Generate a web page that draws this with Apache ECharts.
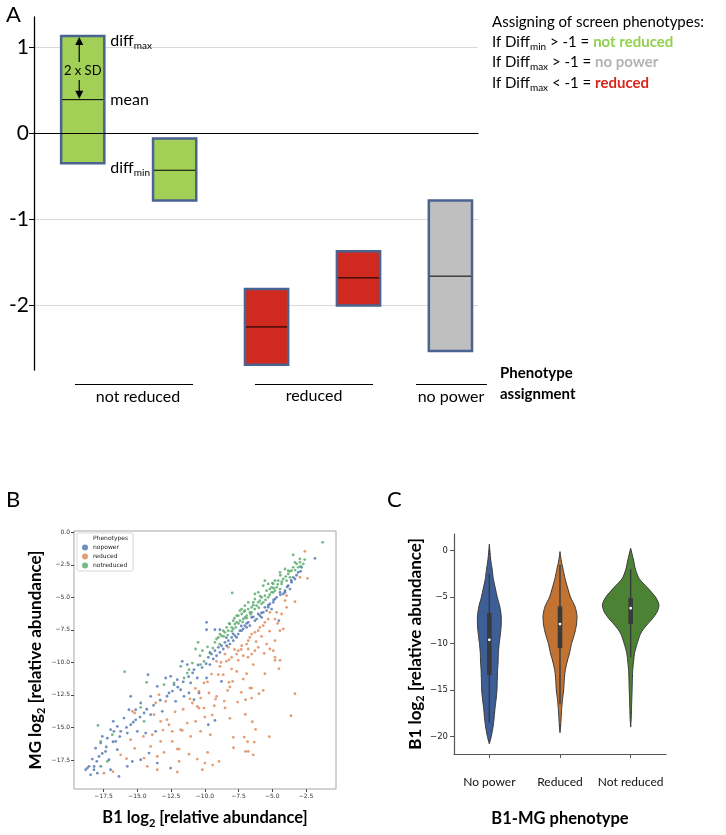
<!DOCTYPE html>
<html>
<head>
<meta charset="utf-8">
<title>Screen phenotypes</title>
<script src="https://cdn.jsdelivr.net/npm/echarts@6/dist/echarts.min.js"></script>
</head>
<body style="margin:0; background:#fff">
<div id="chart" style="width:726px; height:835px;"></div>
<script>
// ---- panel A: diff ranges per screen gene ----
var boxClass = ['not reduced', 'not reduced', 'reduced', 'reduced', 'no power'];
var boxMin  = [-0.35, -0.78, -2.69, -2.00, -2.53];
var boxMax  = [ 1.13, -0.06, -1.81, -1.37, -0.78];
var boxMean = [ 0.39, -0.43, -2.25, -1.68, -1.66];
var ticksA = [-2, -1, 0, 1];

// ---- panel B: B1 vs MG log2 abundance ----
var ticksBx = [-17.5, -15, -12.5, -10, -7.5, -5, -2.5];
var ticksBy = [0, -2.5, -5, -7.5, -10, -12.5, -15, -17.5];
var nopower = [
  [-1.84,-2.00],[-2.83,-2.69],[-3.32,-3.59],[-3.57,-3.84],[-4.06,-4.49],[-4.19,-4.74],[-4.68,-5.00],
  [-4.80,-5.13],[-5.18,-5.51],[-5.05,-5.90],[-5.42,-6.02],[-5.67,-6.15],[-5.92,-6.41],[-6.04,-6.28],
  [-6.29,-6.79],[-6.53,-6.54],[-6.78,-6.92],[-7.03,-7.18],[-7.15,-7.43],[-7.40,-7.56],[-7.52,-7.82],
  [-7.77,-7.95],[-8.01,-8.08],[-8.26,-8.33],[-8.51,-8.46],[-8.76,-8.72],[-9.00,-8.84],[-9.25,-9.10],
  [-9.50,-9.36],[-9.74,-9.61],[-9.87,-6.92],[-9.87,-7.49],[-9.25,-7.49],[-8.88,-7.49],[-4.51,-6.79],
  [-4.06,-4.61],[-3.45,-3.46],[-3.82,-4.10],[-4.43,-4.61],[-4.93,-5.38],[-5.30,-5.77],[-5.55,-5.77],
  [-5.79,-6.54],[-6.16,-6.67],[-6.66,-7.18],[-6.90,-7.31],[-7.27,-7.56],[-7.64,-8.08],[-7.89,-8.33],
  [-8.14,-8.59],[-8.38,-8.72],[-8.63,-8.97],[-8.88,-9.23],[-9.13,-9.49],[-9.37,-9.74],[-9.62,-9.23],
  [-3.08,-3.08],[-3.69,-4.36],
  [-11.67,-9.92],[-14.21,-10.94],[-12.53,-11.07],[-12.28,-11.71],[-12.16,-12.99],[-11.54,-12.61],
  [-10.80,-12.87],[-10.43,-12.35],[-12.65,-12.35],[-13.15,-13.76],[-14.01,-14.02],[-14.50,-13.89],
  [-15.12,-14.41],[-15.62,-13.64],[-15.49,-14.79],[-14.38,-15.43],[-13.64,-15.30],[-15.00,-15.30],
  [-15.74,-15.43],[-16.23,-15.30],[-16.73,-15.30],[-17.22,-15.82],[-16.60,-16.07],[-17.71,-16.20],
  [-17.35,-16.84],[-16.48,-16.71],[-17.10,-17.48],[-17.84,-17.23],[-18.33,-17.43],[-18.70,-18.12],
  [-18.21,-18.25],[-18.46,-18.64],[-17.71,-17.99],[-16.98,-18.25],[-16.36,-18.76],[-15.74,-17.99],
  [-15.37,-17.61],[-14.75,-17.48],[-14.13,-16.97],[-13.52,-17.74],[-12.53,-18.12],[-16.78,-14.53],
  [-15.49,-12.61],[-9.74,-14.79],[-9.25,-14.46],[-8.76,-11.46],[-9.87,-11.20],[-9.62,-10.17],
  [-11.30,-10.17],[-10.80,-10.56],[-10.56,-11.20],[-11.05,-11.58],[-12.04,-11.33],[-12.90,-11.20],
  [-13.52,-11.84],[-11.79,-12.10],[-11.17,-12.35],[-14.01,-12.61],[-14.75,-13.12],[-15.12,-13.64],
  [-15.99,-14.28],[-16.48,-14.92],[-16.98,-15.17],[-17.59,-15.69],[-18.09,-16.59],[-18.58,-17.99],
  [-18.83,-18.25],[-17.96,-18.51],
  [-9.90,-10.10],[-10.20,-10.40],[-10.50,-10.20],[-10.90,-10.80],[-11.20,-11.10],[-11.60,-11.50],
  [-12.00,-11.90],[-12.40,-12.20],[-12.80,-12.60],[-13.30,-12.90],[-13.80,-13.30],[-14.30,-13.60],
  [-14.80,-14.20],[-15.30,-14.60],[-15.80,-15.00],[-16.30,-15.70],[-16.80,-16.10],[-17.30,-16.50],
  [-17.60,-17.00],[-18.00,-17.60],[-18.20,-18.00],[-8.40,-8.10],[-7.90,-7.80],[-7.30,-7.20],
  [-6.90,-7.00],[-6.40,-6.50],[-5.80,-6.20],[-5.30,-5.60],[-4.90,-5.20],[-4.40,-4.80],[-3.90,-4.20],
  [-3.60,-3.70],[-3.20,-3.30],[-2.90,-3.00]
];
var reduced = [
  [-2.58,-1.46],[-2.39,-3.54],[-2.95,-3.46],[-3.94,-4.87],[-4.06,-5.25],[-3.32,-5.33],[-3.94,-5.77],
  [-4.31,-6.28],[-4.80,-6.67],[-4.68,-6.15],[-5.18,-6.15],[-5.30,-6.67],[-5.55,-6.92],[-5.67,-7.18],
  [-5.92,-7.31],[-6.04,-7.56],[-6.29,-7.69],[-6.53,-7.82],[-6.66,-8.08],[-6.78,-8.33],[-6.90,-8.59],
  [-7.27,-8.72],[-7.52,-9.10],[-7.64,-9.36],[-8.01,-9.61],[-8.51,-9.36],[-8.26,-8.84],[-4.19,-7.43],
  [-4.43,-7.56],[-4.80,-8.33],[-5.42,-8.59],[-5.18,-8.97],[-4.93,-9.10],[-6.04,-8.84],[-6.29,-9.10],
  [-6.53,-9.36],[-6.78,-8.97],[-7.15,-9.49],[-4.80,-9.61],
  [-9.13,-9.92],[-8.39,-9.92],[-7.52,-9.84],[-4.80,-9.84],[-4.43,-9.84],[-6.41,-10.17],[-8.88,-10.30],
  [-8.01,-10.51],[-7.64,-10.69],[-6.90,-10.87],[-5.55,-10.87],[-4.51,-10.48],[-9.00,-10.94],[-8.63,-10.94],
  [-8.21,-11.53],[-7.94,-11.46],[-7.15,-11.28],[-6.66,-11.97],[-6.53,-11.97],[-8.14,-11.89],[-8.31,-12.15],
  [-5.99,-12.41],[-5.67,-12.15],[-3.32,-12.41],[-9.69,-12.35],[-9.13,-12.61],[-9.20,-12.82],[-8.56,-12.97],
  [-7.57,-13.05],[-6.98,-12.87],[-6.53,-12.74],[-9.30,-13.33],[-9.45,-14.05],[-3.62,-14.10],[-8.14,-14.30],
  [-6.48,-14.56],[-6.24,-15.15],[-9.59,-15.56],[-7.89,-15.76],[-7.08,-15.74],[-5.22,-15.71],[-6.83,-16.10],
  [-6.33,-16.12],[-7.87,-16.56],[-6.98,-16.84],[-6.78,-16.84],[-6.41,-17.10],[-9.79,-16.92],[-8.95,-17.61],
  [-9.99,-17.74],[-9.42,-17.89],
  [-10.06,-11.58],[-10.43,-12.23],[-10.92,-13.12],[-10.55,-13.38],[-10.06,-13.51],[-10.31,-12.74],
  [-12.90,-12.99],[-13.39,-12.48],[-13.64,-13.12],[-13.76,-14.02],[-15.37,-13.76],[-15.20,-13.89],
  [-13.27,-14.53],[-12.65,-14.79],[-11.30,-14.66],[-10.68,-14.53],[-12.41,-15.30],[-11.79,-15.17],
  [-11.67,-15.23],[-11.05,-15.69],[-10.31,-15.30],[-13.89,-15.56],[-14.55,-15.69],[-15.49,-15.94],
  [-13.27,-16.07],[-12.41,-16.07],[-11.91,-16.66],[-13.02,-16.92],[-12.04,-16.66],[-14.01,-16.46],
  [-14.50,-17.35],[-13.52,-17.23],[-11.17,-17.05],[-10.56,-17.43],[-14.26,-17.99],[-13.52,-18.25],
  [-12.04,-18.43],[-17.47,-18.51],[-10.18,-18.25],[-10.43,-13.51],[-16.23,-17.10],
  [-8.80,-10.00],[-8.20,-9.80],[-7.80,-9.00],[-7.30,-9.00],[-6.80,-9.60],[-6.20,-8.40],[-5.80,-8.00],
  [-5.60,-9.30],[-5.20,-7.60],[-4.60,-7.00],[-9.50,-10.90],[-9.80,-11.50],[-10.70,-12.00],[-11.10,-12.80],
  [-11.60,-13.60],[-12.20,-13.80],[-12.80,-14.40],[-13.10,-15.20],[-10.00,-14.20],[-8.50,-13.50],
  [-7.30,-12.30],[-7.00,-14.00],[-11.90,-17.60],[-16.80,-18.40],[-15.80,-17.40],[-15.20,-16.60]
];
var notreduced = [
  [-1.27,-0.77],[-3.45,-1.74],[-3.32,-2.31],[-2.95,-2.31],[-2.70,-2.43],[-3.08,-2.69],[-3.57,-2.95],
  [-3.82,-3.20],[-4.06,-2.82],[-4.43,-3.08],[-4.19,-3.59],[-3.69,-3.46],[-4.56,-3.72],[-4.93,-3.97],
  [-4.80,-3.72],[-4.68,-4.23],[-5.18,-4.36],[-5.05,-4.61],[-5.42,-4.49],[-5.55,-4.87],[-5.79,-5.00],
  [-6.04,-4.61],[-6.29,-4.74],[-5.92,-5.25],[-5.67,-5.38],[-6.41,-5.38],[-6.16,-5.64],[-6.53,-5.77],
  [-6.78,-5.90],[-6.66,-6.15],[-7.03,-6.02],[-6.90,-6.41],[-7.27,-6.28],[-7.52,-6.41],[-7.15,-6.67],
  [-7.40,-6.79],[-7.64,-6.92],[-7.77,-7.05],[-8.01,-7.31],[-8.26,-7.56],[-7.89,-7.43],[-8.51,-7.69],
  [-8.76,-7.95],[-9.00,-8.08],[-9.13,-8.20],[-9.25,-8.46],[-5.55,-3.72],[-7.97,-4.66],
  [-5.67,-4.10],[-5.30,-3.97],[-5.05,-4.23],[-4.80,-4.49],[-4.43,-4.36],[-4.31,-3.97],[-3.94,-3.72],
  [-3.82,-2.95],[-3.45,-2.69],[-3.20,-2.43],[-2.95,-2.05],[-6.29,-5.13],[-6.04,-5.38],[-6.78,-5.38],
  [-6.53,-6.15],[-7.03,-6.54],[-7.27,-5.90],[-7.64,-6.41],[-7.89,-6.79],[-8.14,-7.05],[-8.38,-7.31],
  [-8.63,-7.56],[-8.88,-7.82],[-7.03,-5.64],[-7.40,-6.02],[-5.30,-5.00],[-4.93,-4.61],
  [-10.50,-8.46],[-10.68,-8.97],[-10.36,-9.49],[-10.18,-9.10],
  [-15.94,-10.71],[-14.31,-11.53],[-13.02,-11.71],[-11.79,-10.30],[-11.30,-10.82],[-10.92,-10.05],
  [-10.31,-10.17],[-10.06,-9.92],[-11.54,-11.20],[-14.75,-13.46],[-14.50,-14.53],[-17.91,-14.84],
  [-17.71,-16.07],[-16.85,-15.56],[-17.22,-17.61],[-12.28,-11.58],[-11.17,-10.56],
  [-8.90,-8.60],[-8.60,-8.00],[-8.30,-7.90],[-8.00,-7.60],[-7.70,-7.30],[-7.50,-7.00],[-7.20,-6.90],
  [-6.90,-6.60],[-6.60,-6.30],[-6.30,-5.90],[-6.00,-5.80],[-5.80,-5.50],[-5.50,-5.20],[-5.20,-4.80],
  [-4.90,-4.30],[-4.60,-4.00],[-4.30,-3.80],[-4.00,-3.40],[-3.70,-3.00],[-3.30,-2.90],[-2.90,-2.60],
  [-2.60,-2.10],[-9.40,-8.90],[-9.60,-9.30],[-9.80,-8.80],[-7.80,-6.60],[-6.40,-5.60],[-5.90,-4.90],
  [-5.00,-3.90],[-4.40,-3.30],[-7.10,-6.10],[-8.20,-7.00]
];

// ---- panel C: violin profiles [log2 value, relative density] and box stats ----
var violinNames = ['No power', 'Reduced', 'Not reduced'];
var violinProfiles = [
  [[0.7,0],[0,0.02],[-1,0.05],[-2,0.10],[-3,0.14],[-4,0.21],[-5,0.28],[-6,0.37],[-7,0.42],[-8,0.42],
   [-9,0.39],[-10,0.35],[-11,0.32],[-12,0.31],[-13,0.29],[-14,0.28],[-15,0.27],[-16,0.24],[-17,0.20],
   [-18,0.17],[-19,0.13],[-20,0.07],[-20.8,0]],
  [[-0.1,0],[-1,0.04],[-2,0.11],[-3,0.18],[-4,0.27],[-5,0.37],[-6,0.53],[-7,0.60],[-8,0.58],[-9,0.51],
   [-10,0.41],[-11,0.34],[-12,0.25],[-13,0.18],[-14,0.15],[-15,0.13],[-16,0.09],[-17,0.06],[-18,0.04],
   [-19,0.02],[-19.6,0]],
  [[0.26,0],[-1,0.10],[-2,0.17],[-3,0.30],[-4,0.60],[-5,0.88],[-5.8,1.0],[-6.5,0.95],[-7,0.85],
   [-7.5,0.72],[-8,0.57],[-8.5,0.44],[-9,0.34],[-10,0.23],[-11,0.14],[-12,0.10],[-13,0.07],[-14,0.06],
   [-15,0.05],[-16,0.04],[-17,0.03],[-18,0.02],[-19,0]]
];
// [whisker low, q1, median, q3, whisker high]
var violinBox = [
  [-18.5, -13.4, -9.6, -6.7, -2.5],
  [-16.5, -10.5, -7.9, -6.0, -1.5],
  [-11.5,  -7.9, -6.2, -5.1, -2.0]
];
var ticksC = [0, -5, -10, -15, -20];

var classColor = { 'not reduced': '#a2cf55', 'reduced': '#d0291f', 'no power': '#bfbfbf' };
var violinColor = ['#3e5e98', '#c27331', '#4c8233'];

var myChart = echarts.init(document.getElementById('chart'));

function fmtMinus(v) {
    return (v < 0 ? '\u2212' : '') + Math.abs(v).toFixed(1);
}

// zrender rich styles (graphic / custom elements use fill)
var subRich = {
    a: { fontFamily: 'Lato', fontSize: 16, lineHeight: 20, fill: '#000' },
    s: { fontFamily: 'Lato', fontSize: 10, lineHeight: 10, verticalAlign: 'bottom', fill: '#000' }
};
function ruleRich(col) {
    return {
        a: { fontFamily: 'Lato', fontSize: 15, lineHeight: 19, fill: '#000' },
        s: { fontFamily: 'Lato', fontSize: 10, lineHeight: 10, verticalAlign: 'bottom', fill: '#000' },
        g: { fontFamily: 'Lato', fontSize: 15, lineHeight: 19, fontWeight: 'bold', fill: col }
    };
}
// echarts axis-name rich styles
function nameRich(size) {
    return {
        a: { fontFamily: 'Lato', fontWeight: 'bold', fontSize: size, lineHeight: 22, color: '#000' },
        s: { fontFamily: 'Lato', fontWeight: 'bold', fontSize: 11, lineHeight: 11, verticalAlign: 'bottom', color: '#000' }
    };
}

function renderBox(params, api) {
    var i = params.dataIndex;
    var x = api.value(0);
    var lo = api.coord([x, api.value(1)]);
    var hi = api.coord([x, api.value(2)]);
    var mid = api.coord([x, api.value(3)]);
    var w = api.size([1, 0])[0] * 0.47;
    var left = lo[0] - w / 2;
    var children = [
        { type: 'rect', shape: { x: left, y: hi[1], width: w, height: lo[1] - hi[1] },
          style: { fill: classColor[boxClass[i]], stroke: '#4b6390', lineWidth: 2.5 } },
        { type: 'line', shape: { x1: left + 1, y1: mid[1], x2: left + w - 1, y2: mid[1] },
          style: { stroke: '#000', lineWidth: 1 } }
    ];
    if (i === 0) {
        // explanation of the box on the first gene
        var ax = lo[0] - 3.5;
        var ty = hi[1] + (mid[1] - hi[1]) * 0.55;
        var right = left + w + 6;
        children.push(
            { type: 'line', shape: { x1: ax, y1: hi[1] + 8, x2: ax, y2: ty - 9 }, style: { stroke: '#000', lineWidth: 1.2 } },
            { type: 'polygon', shape: { points: [[ax, hi[1] + 1], [ax - 4, hi[1] + 9], [ax + 4, hi[1] + 9]] }, style: { fill: '#000' } },
            { type: 'line', shape: { x1: ax, y1: ty + 9, x2: ax, y2: mid[1] - 8 }, style: { stroke: '#000', lineWidth: 1.2 } },
            { type: 'polygon', shape: { points: [[ax, mid[1] - 1], [ax - 4, mid[1] - 9], [ax + 4, mid[1] - 9]] }, style: { fill: '#000' } },
            { type: 'text', x: lo[0], y: ty, style: { text: '2 x SD', font: '13px Lato', fill: '#000', align: 'center', verticalAlign: 'middle' } },
            { type: 'text', x: right, y: hi[1] + 5, style: { text: '{a|diff}{s|max}', rich: subRich, align: 'left', verticalAlign: 'middle' } },
            { type: 'text', x: right, y: mid[1], style: { text: 'mean', font: '16px Lato', fill: '#000', align: 'left', verticalAlign: 'middle' } },
            { type: 'text', x: right, y: lo[1] + 4, style: { text: '{a|diff}{s|min}', rich: subRich, align: 'left', verticalAlign: 'middle' } }
        );
    }
    return { type: 'group', children: children };
}

function renderViolin(params, api) {
    var i = params.dataIndex;
    var prof = violinProfiles[i];
    var c = api.coord([i, 0])[0];
    var half = api.size([1, 0])[0] * 0.4;
    var rightSide = [], leftSide = [];
    for (var k = 0; k < prof.length; k++) {
        var y = api.coord([i, prof[k][0]])[1];
        rightSide.push([c + prof[k][1] * half, y]);
        leftSide.unshift([c - prof[k][1] * half, y]);
    }
    var b = violinBox[i];
    var yLo = api.coord([i, b[0]])[1], yQ1 = api.coord([i, b[1]])[1], yMed = api.coord([i, b[2]])[1];
    var yQ3 = api.coord([i, b[3]])[1], yHi = api.coord([i, b[4]])[1];
    return { type: 'group', children: [
        { type: 'polygon', shape: { points: rightSide.concat(leftSide), smooth: 0.25 },
          style: { fill: violinColor[i], stroke: '#3a3a3a', lineWidth: 1 } },
        { type: 'line', shape: { x1: c, y1: yHi, x2: c, y2: yLo }, style: { stroke: '#3a3a3a', lineWidth: 1.4 } },
        { type: 'rect', shape: { x: c - 2.3, y: yQ3, width: 4.6, height: yQ1 - yQ3 }, style: { fill: '#3a3a3a' } },
        { type: 'circle', shape: { cx: c, cy: yMed, r: 1.4 }, style: { fill: '#fff' } }
    ] };
}

var option = {
    animation: false,
    backgroundColor: '#fff',
    grid: [
        { left: 34, top: 17, width: 444, height: 353 },
        { left: 74, top: 531, width: 262, height: 258, show: true, borderColor: '#a6a6a6', borderWidth: 1 },
        { left: 454, top: 534, width: 212, height: 220 }
    ],
    legend: {
        left: 77, top: 533, orient: 'vertical', selectedMode: false,
        padding: [2, 5, 2, 5], itemWidth: 6, itemHeight: 6, itemGap: 2,
        borderColor: '#d9d9d9', borderWidth: 1, borderRadius: 2,
        textStyle: { fontFamily: 'DejaVu Sans', fontSize: 6, lineHeight: 7, color: '#222' },
        data: [
            { name: 'Phenotypes', icon: 'none' },
            { name: 'nopower', icon: 'circle' },
            { name: 'reduced', icon: 'circle' },
            { name: 'notreduced', icon: 'circle' }
        ]
    },
    xAxis: [
        { gridIndex: 0, type: 'value', min: -0.53, max: 4.3, z: 3,
          axisLine: { show: true, onZero: true, lineStyle: { color: '#000', width: 1.2 } },
          axisTick: { show: false }, axisLabel: { show: false }, splitLine: { show: false } },
        { gridIndex: 1, type: 'value', min: -19.69, max: -0.28,
          axisLine: { show: false, onZero: false },
          axisTick: { show: true, length: 3, customValues: ticksBx, lineStyle: { color: '#444' } },
          axisLabel: { customValues: ticksBx, fontFamily: 'DejaVu Sans', fontSize: 6, margin: 4, color: '#333', formatter: fmtMinus },
          splitLine: { show: false },
          name: '{a|B1 log}{s|2}{a| [relative abundance]}', nameLocation: 'middle', nameGap: 18,
          nameTextStyle: { rich: nameRich(16.5) } },
        { gridIndex: 2, type: 'category', data: violinNames,
          axisLine: { show: true, onZero: false, lineStyle: { color: '#555', width: 1.2 } },
          axisTick: { show: true, alignWithLabel: true, length: 4, lineStyle: { color: '#555' } },
          axisLabel: { interval: 0, fontFamily: 'Lato', fontSize: 12, margin: 22, color: '#111' },
          name: 'B1-MG phenotype', nameLocation: 'middle', nameGap: 56,
          nameTextStyle: { fontFamily: 'Lato', fontWeight: 'bold', fontSize: 16.5, color: '#000' } }
    ],
    yAxis: [
        { gridIndex: 0, type: 'value', min: -2.75, max: 1.35,
          axisLine: { show: true, onZero: false, lineStyle: { color: '#000', width: 1.3 } },
          axisTick: { show: true, length: 5, customValues: ticksA, lineStyle: { color: '#000' } },
          axisLabel: { customValues: ticksA, fontFamily: 'Lato', fontSize: 21, margin: 5, color: '#000' },
          splitLine: { show: true, lineStyle: { color: '#d9d9d9', width: 1.2 } } },
        { gridIndex: 1, type: 'value', min: -19.73, max: 0.1,
          axisLine: { show: false, onZero: false },
          axisTick: { show: true, length: 3, customValues: ticksBy, lineStyle: { color: '#444' } },
          axisLabel: { customValues: ticksBy, fontFamily: 'DejaVu Sans', fontSize: 6, margin: 4, color: '#333', formatter: fmtMinus },
          splitLine: { show: false },
          name: '{a|MG log}{s|2}{a| [relative abundance]}', nameLocation: 'middle', nameGap: 27,
          nameTextStyle: { rich: nameRich(17) } },
        { gridIndex: 2, type: 'value', min: -21.9, max: 1.8,
          axisLine: { show: true, onZero: false, lineStyle: { color: '#555', width: 1.2 } },
          axisTick: { show: true, length: 4, customValues: ticksC, lineStyle: { color: '#555' } },
          axisLabel: { customValues: ticksC, fontFamily: 'DejaVu Sans', fontSize: 8.5, margin: 6, color: '#222',
                       formatter: function (v) { return (v < 0 ? '\u2212' : '') + Math.abs(v); } },
          splitLine: { show: false },
          name: '{a|B1 log}{s|2}{a| [relative abundance]}', nameLocation: 'middle', nameGap: 20,
          nameTextStyle: { rich: nameRich(17) } }
    ],
    series: [
        { type: 'custom', xAxisIndex: 0, yAxisIndex: 0, renderItem: renderBox, silent: true,
          data: boxMean.map(function (m, i) { return [i, boxMin[i], boxMax[i], m]; }) },
        { name: 'Phenotypes', type: 'scatter', xAxisIndex: 1, yAxisIndex: 1, data: [] },
        { name: 'nopower', type: 'scatter', xAxisIndex: 1, yAxisIndex: 1, symbolSize: 2.8, silent: true,
          itemStyle: { color: '#4c72b0', opacity: 0.8 }, data: nopower },
        { name: 'reduced', type: 'scatter', xAxisIndex: 1, yAxisIndex: 1, symbolSize: 2.8, silent: true,
          itemStyle: { color: '#dd8452', opacity: 0.8 }, data: reduced },
        { name: 'notreduced', type: 'scatter', xAxisIndex: 1, yAxisIndex: 1, symbolSize: 2.8, silent: true,
          itemStyle: { color: '#55a868', opacity: 0.8 }, data: notreduced },
        { type: 'custom', xAxisIndex: 2, yAxisIndex: 2, renderItem: renderViolin, silent: true,
          data: violinNames.map(function (n, i) { return [i]; }) }
    ],
    graphic: [
        { type: 'text', x: 6, y: 15, style: { text: 'A', font: '22px Lato', fill: '#000', verticalAlign: 'middle' } },
        { type: 'text', x: 6, y: 500, style: { text: 'B', font: '22px Lato', fill: '#000', verticalAlign: 'middle' } },
        { type: 'text', x: 387, y: 500, style: { text: 'C', font: '22px Lato', fill: '#000', verticalAlign: 'middle' } },
        // rule for assigning phenotypes
        { type: 'text', x: 492, y: 22, style: { text: 'Assigning of screen phenotypes:', font: '15px Lato', fill: '#000', verticalAlign: 'middle' } },
        { type: 'text', x: 492, y: 42, style: { text: '{a|If Diff}{s|min}{a| > -1 = }{g|not reduced}', verticalAlign: 'middle', rich: ruleRich('#92d050') } },
        { type: 'text', x: 492, y: 62, style: { text: '{a|If Diff}{s|max}{a| > -1 = }{g|no power}', verticalAlign: 'middle', rich: ruleRich('#b3b3b3') } },
        { type: 'text', x: 492, y: 83, style: { text: '{a|If Diff}{s|max}{a| < -1 = }{g|reduced}', verticalAlign: 'middle', rich: ruleRich('#d9261c') } },
        // phenotype groups under panel A
        { type: 'line', shape: { x1: 75, y1: 384.5, x2: 193, y2: 384.5 }, style: { stroke: '#000', lineWidth: 1 } },
        { type: 'line', shape: { x1: 255, y1: 384.5, x2: 373, y2: 384.5 }, style: { stroke: '#000', lineWidth: 1 } },
        { type: 'line', shape: { x1: 416, y1: 384.5, x2: 487, y2: 384.5 }, style: { stroke: '#000', lineWidth: 1 } },
        { type: 'text', x: 138, y: 397, style: { text: 'not reduced', font: '16px Lato', fill: '#000', align: 'center', verticalAlign: 'middle' } },
        { type: 'text', x: 314, y: 396, style: { text: 'reduced', font: '16px Lato', fill: '#000', align: 'center', verticalAlign: 'middle' } },
        { type: 'text', x: 451, y: 397, style: { text: 'no power', font: '16px Lato', fill: '#000', align: 'center', verticalAlign: 'middle' } },
        { type: 'text', x: 500, y: 373, style: { text: 'Phenotype', font: 'bold 15px Lato', fill: '#000', verticalAlign: 'middle' } },
        { type: 'text', x: 500, y: 394, style: { text: 'assignment', font: 'bold 15px Lato', fill: '#000', verticalAlign: 'middle' } }
    ]
};

myChart.setOption(option);
</script>
</body>
</html>
